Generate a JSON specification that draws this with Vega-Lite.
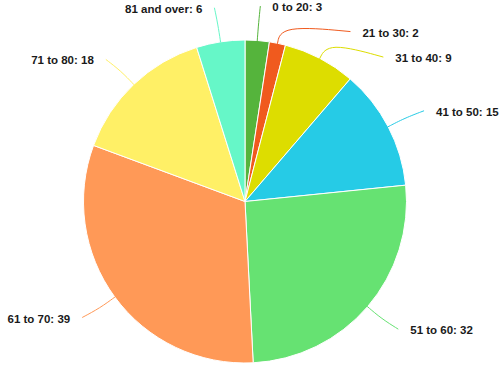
{
  "$schema": "https://vega.github.io/schema/vega-lite/v6.json",
  "width": 500,
  "height": 370,
  "autosize": {"type": "none"},
  "padding": 0,
  "background": "white",
  "view": {"stroke": null},
  "data": {
    "values": [
      {"label": "0 to 20", "value": 3, "order": 1},
      {"label": "21 to 30", "value": 2, "order": 2},
      {"label": "31 to 40", "value": 9, "order": 3},
      {"label": "41 to 50", "value": 15, "order": 4},
      {"label": "51 to 60", "value": 32, "order": 5},
      {"label": "61 to 70", "value": 39, "order": 6},
      {"label": "71 to 80", "value": 18, "order": 7},
      {"label": "81 and over", "value": 6, "order": 8}
    ]
  },
  "transform": [
    {"joinaggregate": [{"op": "sum", "field": "value", "as": "total"}]},
    {"window": [{"op": "sum", "field": "value", "as": "cum"}], "sort": [{"field": "order", "order": "ascending"}], "frame": [null, 0]},
    {"calculate": "(datum.cum - datum.value / 2) / datum.total * 2 * PI", "as": "mid"},
    {"calculate": "sin(datum.mid) >= 0 ? 1 : -1", "as": "side"},
    {"calculate": "196 * cos(datum.mid)", "as": "ny"},
    {"calculate": "datum.side * datum.order", "as": "key"},
    {"window": [{"op": "row_number", "as": "rank"}], "groupby": ["side"], "sort": [{"field": "key", "order": "ascending"}]},
    {"calculate": "datum.ny + datum.rank * 25.5", "as": "t"},
    {"window": [{"op": "min", "field": "t", "as": "tmin"}], "groupby": ["side"], "sort": [{"field": "key", "order": "ascending"}], "frame": [null, 0]},
    {"calculate": "datum.tmin - datum.rank * 25.5", "as": "ly"},
    {"calculate": "abs(datum.ly - datum.ny) > 0.5 ? datum.side * sqrt(max(0, 200 * 200 - datum.ly * datum.ly)) : 202 * sin(datum.mid)", "as": "ex"},
    {"calculate": "datum.label + ': ' + datum.value", "as": "lbl"}
  ],
  "layer": [
    {
      "mark": {"type": "arc", "outerRadius": 161.5, "x": 245, "y": 201.5, "stroke": "white", "strokeWidth": 1},
      "encoding": {
        "theta": {"field": "value", "type": "quantitative", "stack": true},
        "order": {"field": "order", "type": "quantitative"},
        "color": {
          "field": "label", "type": "nominal", "legend": null,
          "scale": {
            "domain": ["0 to 20", "21 to 30", "31 to 40", "41 to 50", "51 to 60", "61 to 70", "71 to 80", "81 and over"],
            "range": ["#55b43c", "#f05a1e", "#dddd00", "#26cbe6", "#66e272", "#ff9957", "#fff066", "#66f7c8"]
          }
        }
      }
    },
    {
      "transform": [
        {"calculate": "[0, 1, 2]", "as": "pts"},
        {"flatten": ["pts"]},
        {"calculate": "datum.pts == 0 ? 161 * sin(datum.mid) : (datum.pts == 1 ? 180 * sin(datum.mid) : datum.ex)", "as": "px"},
        {"calculate": "datum.pts == 0 ? 161 * cos(datum.mid) : (datum.pts == 1 ? 180 * cos(datum.mid) : datum.ly)", "as": "py"}
      ],
      "mark": {"type": "line", "strokeWidth": 1, "interpolate": "basis"},
      "encoding": {
        "x": {"field": "px", "type": "quantitative", "scale": {"domain": [-245, 255], "nice": false, "zero": false}, "axis": null},
        "y": {"field": "py", "type": "quantitative", "scale": {"domain": [-168.5, 201.5], "nice": false, "zero": false}, "axis": null},
        "detail": {"field": "label"},
        "order": {"field": "pts", "type": "quantitative"},
        "color": {"field": "label", "type": "nominal", "legend": null}
      }
    },
    {
      "transform": [{"filter": "datum.side > 0"}],
      "mark": {"type": "text", "align": "left", "baseline": "middle", "dx": 12, "dy": 2, "font": "Liberation Sans", "fontSize": 11.5, "fontWeight": "bold", "fill": "#1a1a1a"},
      "encoding": {
        "x": {"field": "ex", "type": "quantitative"},
        "y": {"field": "ly", "type": "quantitative"},
        "text": {"field": "lbl"}
      }
    },
    {
      "transform": [{"filter": "datum.side < 0"}],
      "mark": {"type": "text", "align": "right", "baseline": "middle", "dx": -12, "dy": 2, "font": "Liberation Sans", "fontSize": 11.5, "fontWeight": "bold", "fill": "#1a1a1a"},
      "encoding": {
        "x": {"field": "ex", "type": "quantitative"},
        "y": {"field": "ly", "type": "quantitative"},
        "text": {"field": "lbl"}
      }
    }
  ]
}
